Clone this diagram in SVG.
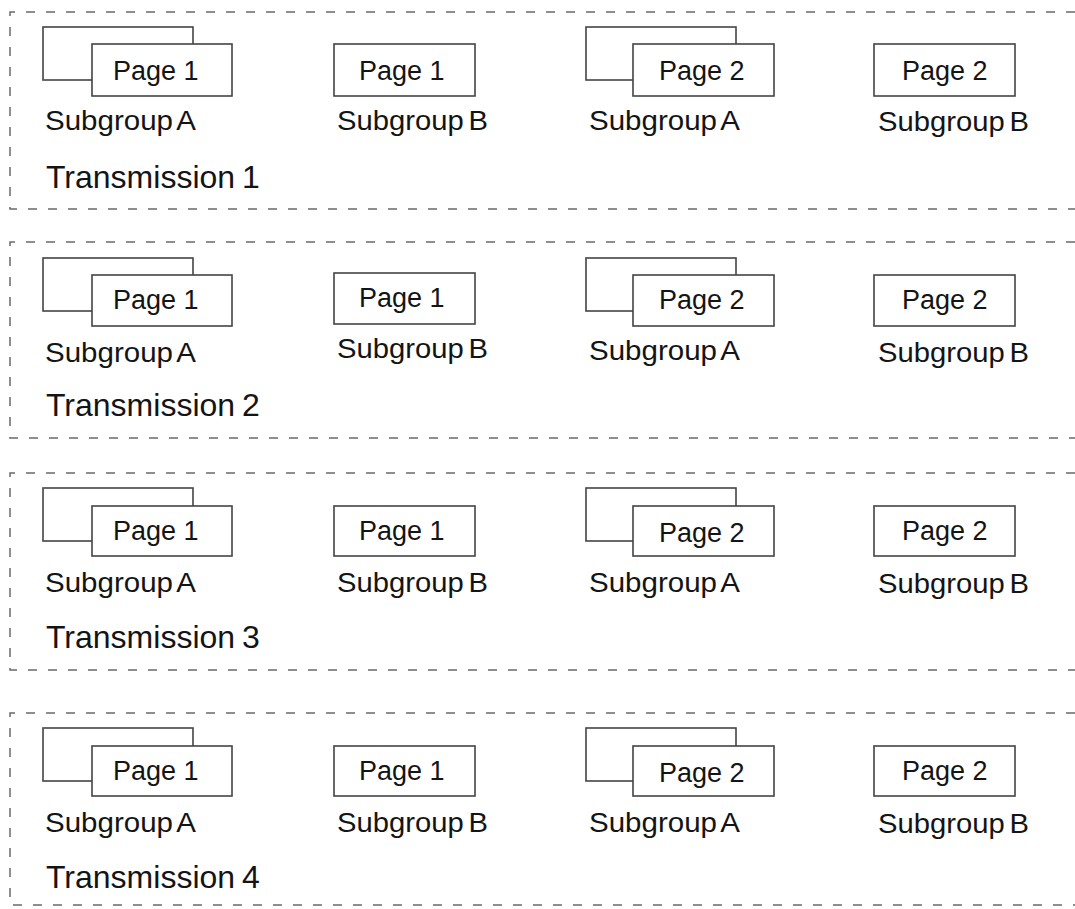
<svg xmlns="http://www.w3.org/2000/svg" width="1075" height="909" viewBox="0 0 1075 909">
<style>
.frame{fill:none;stroke:#6a6a6a;stroke-width:1.5;stroke-dasharray:9 11}
.back{fill:#fff;stroke:#444;stroke-width:1.6}
.page{fill:#fff;stroke:#444;stroke-width:1.6}
.pt{font-family:"Liberation Sans",Arial,sans-serif;font-size:27px;fill:#141414}
.st{font-family:"Liberation Sans",Arial,sans-serif;font-size:27px;fill:#141414;word-spacing:-3px}
.tt{font-family:"Liberation Sans",Arial,sans-serif;font-size:32px;fill:#141414;word-spacing:-2px}
</style>
<rect width="1075" height="909" fill="#fff"/>

<g id="transmission1">
  <path class="frame" d="M1075,12 H10 V209 H1075"/>
  <g id="t1-subgroupA-page1">
    <rect class="back" x="43" y="27" width="150" height="53"/>
    <rect class="page" x="92" y="44" width="140" height="52"/>
    <text class="pt" x="113" y="80">Page 1</text>
    <text class="st" x="45" y="130" textLength="151" lengthAdjust="spacingAndGlyphs">Subgroup A</text>
  </g>
  <g id="t1-subgroupB-page1">
    <rect class="page" x="334" y="44" width="141" height="52"/>
    <text class="pt" x="359" y="80">Page 1</text>
    <text class="st" x="337" y="130" textLength="151" lengthAdjust="spacingAndGlyphs">Subgroup B</text>
  </g>
  <g id="t1-subgroupA-page2">
    <rect class="back" x="586" y="27" width="150" height="53"/>
    <rect class="page" x="633" y="44" width="141" height="52"/>
    <text class="pt" x="659" y="80">Page 2</text>
    <text class="st" x="589" y="130" textLength="151" lengthAdjust="spacingAndGlyphs">Subgroup A</text>
  </g>
  <g id="t1-subgroupB-page2">
    <rect class="page" x="874" y="44" width="141" height="52"/>
    <text class="pt" x="902" y="80">Page 2</text>
    <text class="st" x="878" y="131" textLength="151" lengthAdjust="spacingAndGlyphs">Subgroup B</text>
  </g>
  <text class="tt" x="46" y="188">Transmission 1</text>
</g>

<g id="transmission2">
  <path class="frame" d="M1075,242 H10 V438 H1075"/>
  <g id="t2-subgroupA-page1">
    <rect class="back" x="43" y="258" width="150" height="53"/>
    <rect class="page" x="92" y="275" width="140" height="51"/>
    <text class="pt" x="113" y="309">Page 1</text>
    <text class="st" x="45" y="362" textLength="151" lengthAdjust="spacingAndGlyphs">Subgroup A</text>
  </g>
  <g id="t2-subgroupB-page1">
    <rect class="page" x="334" y="273" width="141" height="51"/>
    <text class="pt" x="359" y="307">Page 1</text>
    <text class="st" x="337" y="358" textLength="151" lengthAdjust="spacingAndGlyphs">Subgroup B</text>
  </g>
  <g id="t2-subgroupA-page2">
    <rect class="back" x="586" y="258" width="150" height="53"/>
    <rect class="page" x="633" y="275" width="141" height="51"/>
    <text class="pt" x="659" y="309">Page 2</text>
    <text class="st" x="589" y="360" textLength="151" lengthAdjust="spacingAndGlyphs">Subgroup A</text>
  </g>
  <g id="t2-subgroupB-page2">
    <rect class="page" x="874" y="275" width="141" height="51"/>
    <text class="pt" x="902" y="309">Page 2</text>
    <text class="st" x="878" y="362" textLength="151" lengthAdjust="spacingAndGlyphs">Subgroup B</text>
  </g>
  <text class="tt" x="46" y="416">Transmission 2</text>
</g>

<g id="transmission3">
  <path class="frame" d="M1075,473 H10 V670 H1075"/>
  <g id="t3-subgroupA-page1">
    <rect class="back" x="43" y="488" width="150" height="53"/>
    <rect class="page" x="92" y="506" width="140" height="50"/>
    <text class="pt" x="113" y="540">Page 1</text>
    <text class="st" x="45" y="592" textLength="151" lengthAdjust="spacingAndGlyphs">Subgroup A</text>
  </g>
  <g id="t3-subgroupB-page1">
    <rect class="page" x="334" y="506" width="141" height="50"/>
    <text class="pt" x="359" y="540">Page 1</text>
    <text class="st" x="337" y="592" textLength="151" lengthAdjust="spacingAndGlyphs">Subgroup B</text>
  </g>
  <g id="t3-subgroupA-page2">
    <rect class="back" x="586" y="488" width="150" height="53"/>
    <rect class="page" x="633" y="506" width="141" height="50"/>
    <text class="pt" x="659" y="542">Page 2</text>
    <text class="st" x="589" y="592" textLength="151" lengthAdjust="spacingAndGlyphs">Subgroup A</text>
  </g>
  <g id="t3-subgroupB-page2">
    <rect class="page" x="874" y="506" width="141" height="50"/>
    <text class="pt" x="902" y="540">Page 2</text>
    <text class="st" x="878" y="593" textLength="151" lengthAdjust="spacingAndGlyphs">Subgroup B</text>
  </g>
  <text class="tt" x="46" y="648">Transmission 3</text>
</g>

<g id="transmission4">
  <path class="frame" d="M1075,713 H10 V905 H1075"/>
  <g id="t4-subgroupA-page1">
    <rect class="back" x="43" y="728" width="150" height="53"/>
    <rect class="page" x="92" y="746" width="140" height="50"/>
    <text class="pt" x="113" y="780">Page 1</text>
    <text class="st" x="45" y="832" textLength="151" lengthAdjust="spacingAndGlyphs">Subgroup A</text>
  </g>
  <g id="t4-subgroupB-page1">
    <rect class="page" x="334" y="746" width="141" height="50"/>
    <text class="pt" x="359" y="780">Page 1</text>
    <text class="st" x="337" y="832" textLength="151" lengthAdjust="spacingAndGlyphs">Subgroup B</text>
  </g>
  <g id="t4-subgroupA-page2">
    <rect class="back" x="586" y="728" width="150" height="53"/>
    <rect class="page" x="633" y="746" width="141" height="50"/>
    <text class="pt" x="659" y="782">Page 2</text>
    <text class="st" x="589" y="832" textLength="151" lengthAdjust="spacingAndGlyphs">Subgroup A</text>
  </g>
  <g id="t4-subgroupB-page2">
    <rect class="page" x="874" y="746" width="141" height="50"/>
    <text class="pt" x="902" y="780">Page 2</text>
    <text class="st" x="878" y="833" textLength="151" lengthAdjust="spacingAndGlyphs">Subgroup B</text>
  </g>
  <text class="tt" x="46" y="888">Transmission 4</text>
</g>

<g id="connectors"/>
</svg>
